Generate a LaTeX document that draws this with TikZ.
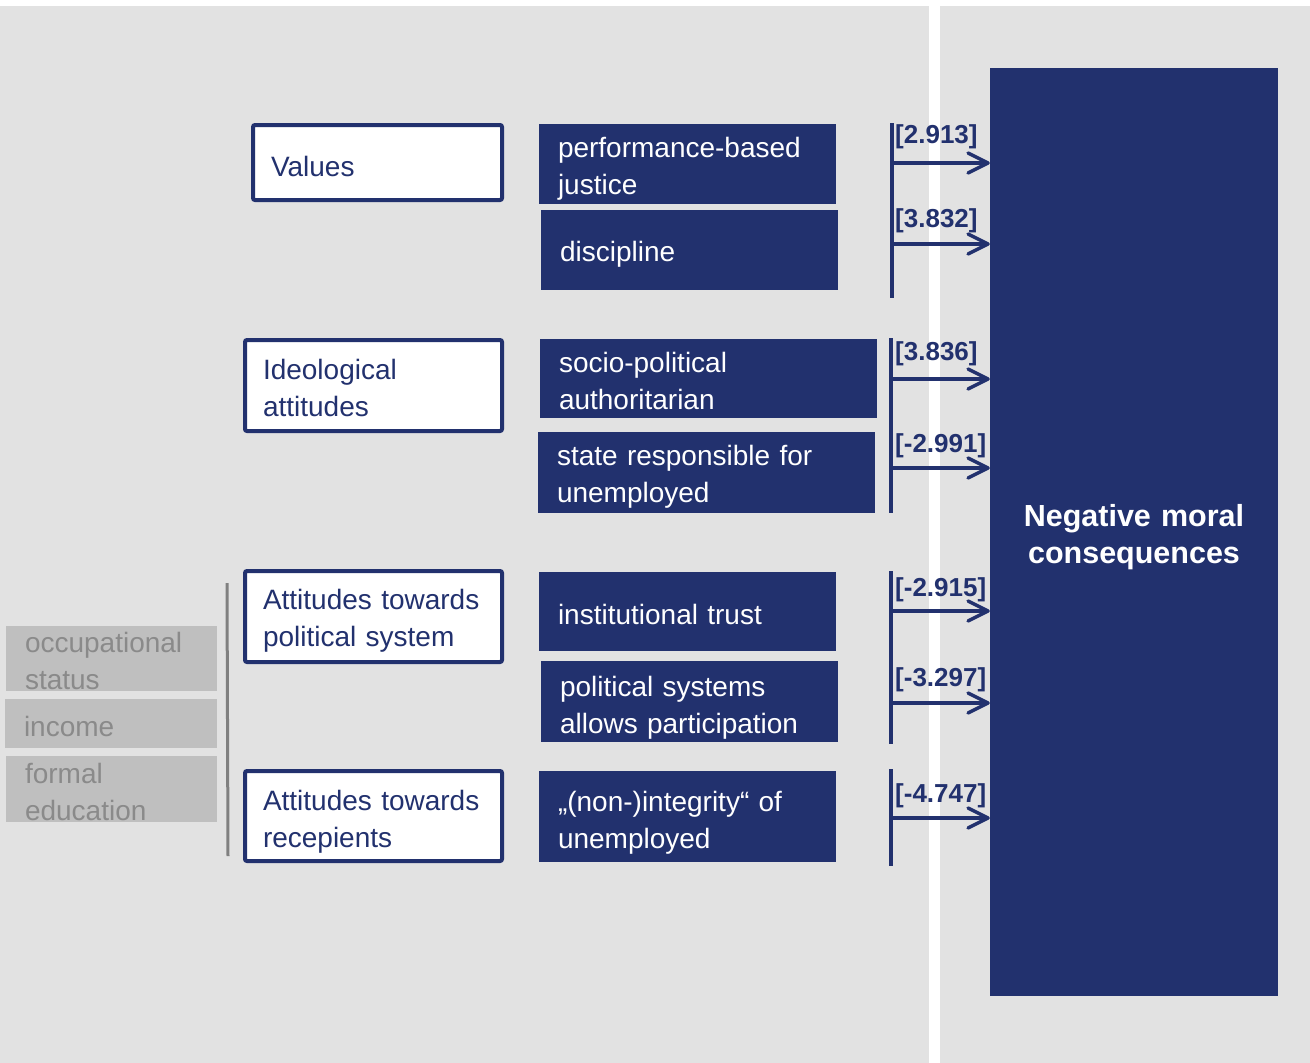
\documentclass[tikz,border=0pt]{standalone}
\usepackage{fontspec}
\setmainfont{Liberation Sans}
\usetikzlibrary{arrows.meta}

\definecolor{navy}{RGB}{34,49,110}
\definecolor{bggray}{RGB}{226,226,226}
\definecolor{boxgray}{RGB}{191,191,191}
\definecolor{txtgray}{RGB}{138,138,138}
\definecolor{linegray}{RGB}{128,128,128}

\tikzstyle{group}=[draw=navy, line width=4pt, fill=white, rounded corners=2pt, inner xsep=18pt, align=left, text=navy, text height=29pt, font=\fontsize{28}{37}\selectfont]
\tikzstyle{item}=[fill=navy, inner xsep=19pt, align=left, text=white, text height=29pt, font=\fontsize{28}{37}\selectfont]
\tikzstyle{ctrl}=[fill=boxgray, inner xsep=19pt, inner ysep=0pt, align=left, text=txtgray, text height=26pt, font=\fontsize{28}{37}\selectfont]
\tikzstyle{bar}=[navy, line width=3.5pt]
\tikzstyle{effect}=[-{Straight Barb[length=20pt, width=20pt, round]}, navy, line width=3.5pt]
\tikzstyle{coef}=[anchor=west, inner sep=0pt, text=navy, font=\fontsize{26}{30}\bfseries]

\begin{document}
\begin{tikzpicture}[x=1pt, y=-1pt]
    \useasboundingbox (0,0) rectangle (1310,1063);
    \fill[white] (0,0) rectangle (1310,1063);
    \fill[bggray] (0,6) rectangle (1310,1063);
    \fill[white] (929,6) rectangle (940,1063);

    \node[fill=navy, text width=260pt, inner xsep=14pt, minimum height=928pt, align=center, text=white, text height=32pt, font=\fontsize{30.5}{37}\bfseries] (neg) at (1134, 532) {Negative moral\\consequences};

    \node[group, text width=213pt, minimum height=75pt] (values) at (377.5, 162.5) {Values};
    \node[group, text width=221pt, minimum height=91pt, text height=25pt] (ideo) at (373.5, 385.5) {Ideological\\attitudes};
    \node[group, text width=221pt, minimum height=91pt] (polsys) at (373.5, 616.5) {Attitudes towards\\political system};
    \node[group, text width=221pt, minimum height=90pt, text height=32pt] (recip) at (373.5, 816) {Attitudes towards\\recepients};

    \node[item, text width=259pt, minimum height=80pt] (perf) at (687.5, 164) {performance-based\\justice};
    \node[item, text width=259pt, minimum height=80pt] (disc) at (689.5, 250) {discipline};
    \node[item, text width=299pt, minimum height=79pt, text height=25pt] (socio) at (708.5, 378.5) {socio-political\\authoritarian};
    \node[item, text width=299pt, minimum height=81pt] (state) at (706.5, 472.5) {state responsible for\\unemployed};
    \node[item, text width=259pt, minimum height=79pt, text height=27pt] (trust) at (687.5, 611.5) {institutional trust};
    \node[item, text width=259pt, minimum height=79pt, text height=32pt] (partic) at (689.5, 701.5) {political systems\\allows participation};
    \node[item, text width=259pt, minimum height=91pt, text height=32pt] (integ) at (687.5, 816.5) {„(non-)integrity“ of\\unemployed};

    \node[ctrl, text width=173pt, minimum height=65pt] (occ) at (111.5, 658.5) {occupational\\status};
    \node[ctrl, text width=174pt, minimum height=49pt] (income) at (111, 723.5) {income};
    \node[ctrl, text width=173pt, minimum height=66pt] (edu) at (111.5, 789) {formal\\education};
    \coordinate (ctop) at (227, 583);
    \coordinate (cbot) at (228, 856);
    \draw[linegray, line width=3pt] (ctop) -- (cbot);

    \coordinate (b1t) at (892, 123);
    \coordinate (b1b) at (892, 298);
    \coordinate (b2t) at (891, 338);
    \coordinate (b2b) at (891, 513);
    \coordinate (b3t) at (891, 571);
    \coordinate (b3b) at (891, 744);
    \coordinate (b4t) at (891, 769);
    \coordinate (b4b) at (891, 866);
    \draw[bar] (b1t) -- (b1b);
    \draw[bar] (b2t) -- (b2b);
    \draw[bar] (b3t) -- (b3b);
    \draw[bar] (b4t) -- (b4b);

    \coordinate (e1) at (892, 163);
    \coordinate (e2) at (892, 244);
    \coordinate (e3) at (891, 379);
    \coordinate (e4) at (891, 468);
    \coordinate (e5) at (891, 611);
    \coordinate (e6) at (891, 703);
    \coordinate (e7) at (893, 818);
    \draw[effect] (e1) -- (e1 -| neg.west);
    \draw[effect] (e2) -- (e2 -| neg.west);
    \draw[effect] (e3) -- (e3 -| neg.west);
    \draw[effect] (e4) -- (e4 -| neg.west);
    \draw[effect] (e5) -- (e5 -| neg.west);
    \draw[effect] (e6) -- (e6 -| neg.west);
    \draw[effect] (e7) -- (e7 -| neg.west);

    \node[coef] (c1) at (895, 137) {[2.913]};
    \node[coef] (c2) at (895, 221) {[3.832]};
    \node[coef] (c3) at (895, 354) {[3.836]};
    \node[coef] (c4) at (895, 446) {[-2.991]};
    \node[coef] (c5) at (895, 590) {[-2.915]};
    \node[coef] (c6) at (895, 680) {[-3.297]};
    \node[coef] (c7) at (895, 796) {[-4.747]};
  \end{tikzpicture}
\end{document}
